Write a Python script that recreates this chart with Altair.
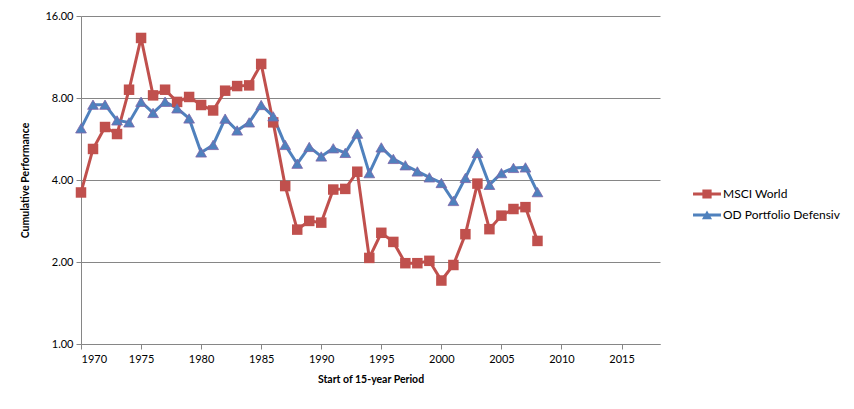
import altair as alt
import pandas as pd

years = list(range(1970, 2009))
msci_world = [3.60, 5.20, 6.26, 5.90, 8.58, 13.29, 8.18, 8.58, 7.74, 8.07,
              7.54, 7.20, 8.51, 8.85, 8.90, 10.67, 6.51, 3.80, 2.63, 2.83,
              2.79, 3.69, 3.71, 4.29, 2.07, 2.56, 2.37, 1.98, 1.98, 2.02,
              1.71, 1.95, 2.53, 3.88, 2.64, 2.96, 3.13, 3.18, 2.39]
od_defensiv = [6.19, 7.56, 7.56, 6.62, 6.51, 7.75, 7.05, 7.75, 7.33, 6.73,
               5.05, 5.38, 6.72, 6.08, 6.51, 7.54, 6.85, 5.38, 4.59, 5.29,
               4.88, 5.23, 5.03, 5.92, 4.24, 5.27, 4.78, 4.53, 4.30, 4.09,
               3.90, 3.35, 4.07, 5.03, 3.84, 4.24, 4.43, 4.45, 3.61]
series_names = ["MSCI World", "OD Portfolio Defensiv"]
series_colors = ["#C0504D", "#4F81BD"]
y_ticks = [1, 2, 4, 8, 16]
x_ticks = list(range(1970, 2020, 5))

# legend glyphs: a line with the marker on it (unit-box SVG paths)
legend_glyphs = [
    "M-1.27,-0.14H1.27V0.14H-1.27Z M-0.42,-0.42H0.42V0.42H-0.42Z",
    "M-1.27,-0.14H1.27V0.14H-1.27Z M0,-0.42L0.46,0.38H-0.46Z",
]

rows = []
for y, v in zip(years, msci_world):
    rows.append({"year": y, "value": v, "series": series_names[0]})
for y, v in zip(years, od_defensiv):
    rows.append({"year": y, "value": v, "series": series_names[1]})
df = pd.DataFrame(rows)

FONT = "Lato"

x_enc = alt.X("year:Q",
              scale=alt.Scale(domain=[1970, 2018.2], nice=False, zero=False),
              axis=alt.Axis(values=x_ticks, format="d", grid=False,
                            title="Start of 15-year Period", tickSize=5,
                            labelPadding=4, titlePadding=10))
y_enc = alt.Y("value:Q",
              scale=alt.Scale(type="log", base=2, domain=[1, 16], nice=False),
              axis=alt.Axis(values=y_ticks, format=".2f", grid=True,
                            title="Cumulative Performance", tickSize=5,
                            labelPadding=3, titlePadding=14))

legend = alt.Legend(title=None, orient="none", legendX=615, legendY=167,
                    labelFontSize=12, symbolSize=484, rowPadding=4,
                    labelOffset=5, padding=0, symbolStrokeWidth=0,
                    symbolOpacity=1, labelFont=FONT, labelColor="#000")

base = alt.Chart(df)
layers = []
for name, col in zip(series_names, series_colors):
    layers.append(base.transform_filter(alt.datum.series == name)
                  .mark_line(strokeWidth=3, color=col)
                  .encode(x=x_enc, y=y_enc))

layers.append(base.transform_filter(alt.datum.series == series_names[0])
              .mark_point(filled=True, size=110, opacity=1, shape="square",
                          color=series_colors[0])
              .encode(x=x_enc, y=y_enc))
layers.append(base.transform_filter(alt.datum.series == series_names[1])
              .mark_point(filled=True, size=115, opacity=1, shape="triangle-up",
                          color=series_colors[1], stroke="#7F64A8",
                          strokeWidth=0.8)
              .encode(x=x_enc, y=y_enc))

legend_layer = base.transform_filter("false").mark_point(
    filled=True, opacity=1).encode(
    x=x_enc, y=y_enc,
    color=alt.Color("series:N",
                    scale=alt.Scale(domain=series_names, range=series_colors),
                    legend=legend),
    shape=alt.Shape("series:N",
                    scale=alt.Scale(domain=series_names, range=legend_glyphs),
                    legend=legend),
)
layers.append(legend_layer)

chart = alt.layer(*layers).properties(
    width=579, height=328,
    autosize=alt.AutoSizeParams(type="none"),
    padding={"left": 73, "top": 8, "right": 186, "bottom": 57},
    background="white",
).configure_view(strokeWidth=0).configure_axis(
    labelFont=FONT, titleFont=FONT, labelFontSize=11, titleFontSize=10.5,
    titleFontWeight="bold", labelColor="#000", titleColor="#000",
    domainColor="#868686", tickColor="#868686", gridColor="#868686",
    domainWidth=1, gridWidth=1,
)

chart.save("out.html", embed_options={"renderer": "svg", "actions": False})
